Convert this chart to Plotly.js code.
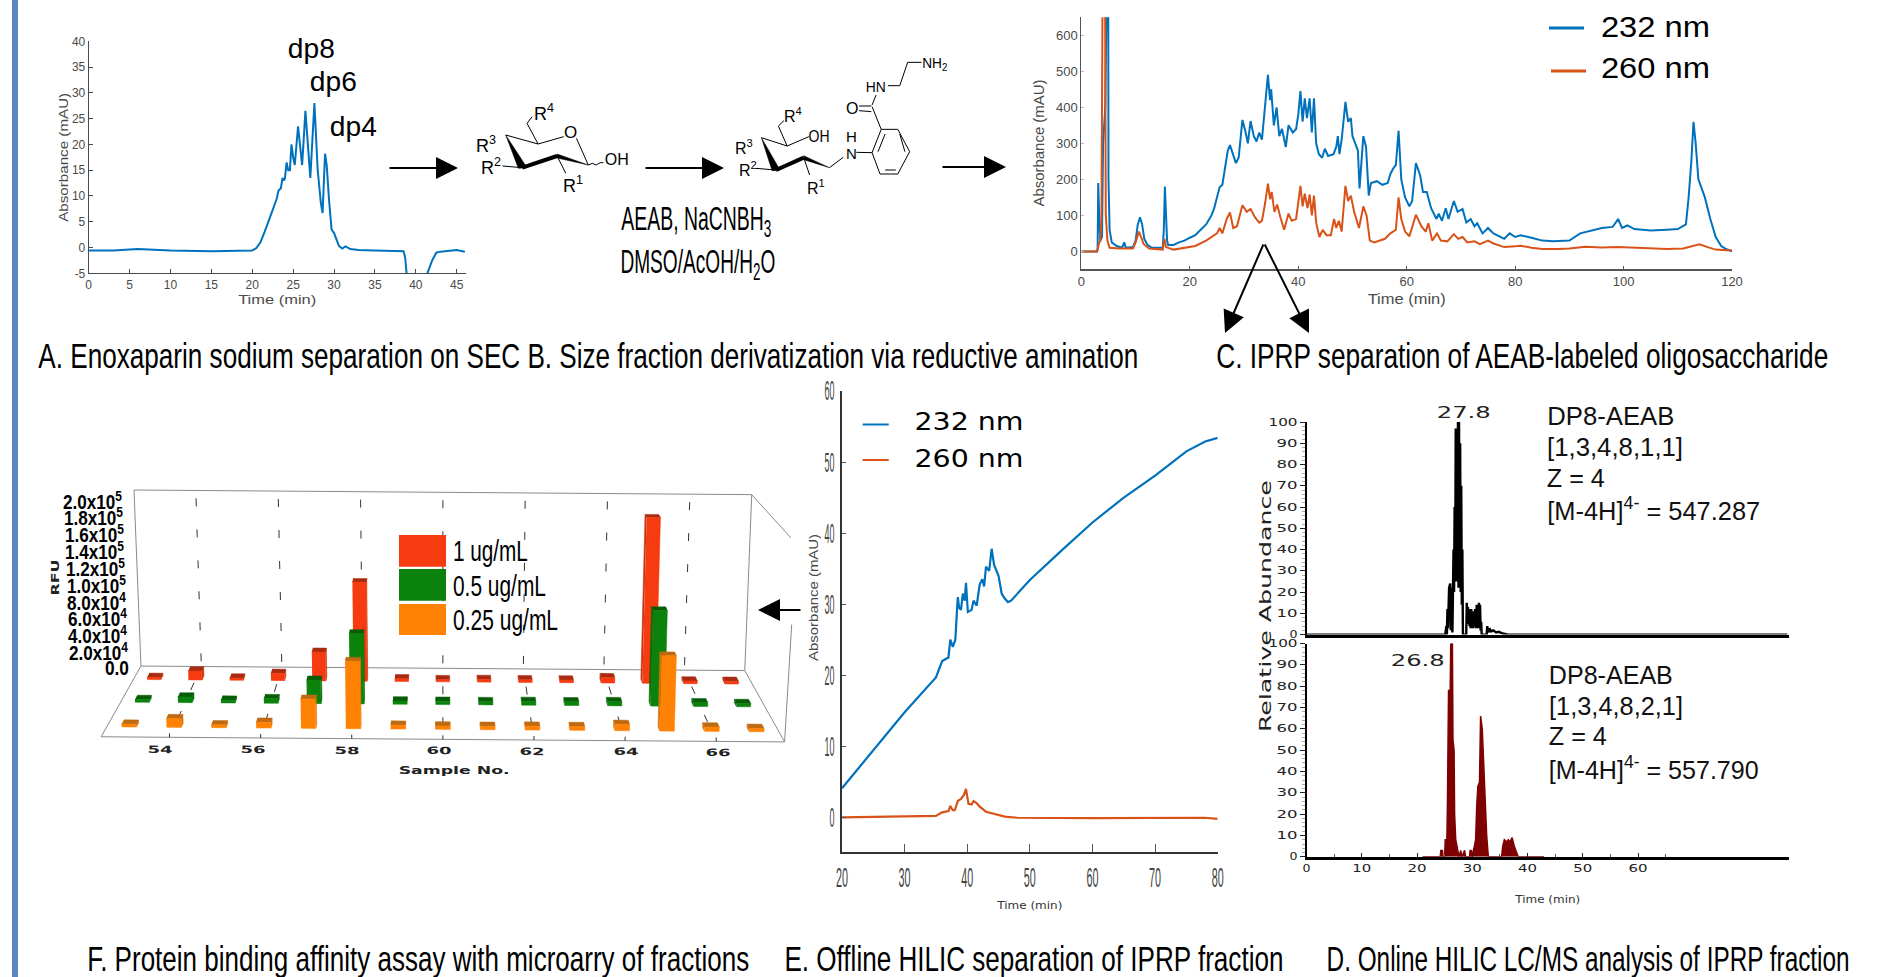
<!DOCTYPE html>
<html><head><meta charset="utf-8">
<script src="https://cdn.plot.ly/plotly-3.0.1.min.js"></script>
<style>html,body{margin:0;padding:0;background:#fff;overflow:hidden}#chart{width:1888px;height:977px}</style>
</head><body><div id="chart"></div>
<script>
// ---------- Panel A: SEC
const secTime=[0,3,6,10,15,19,20,20.5,21,21.5,22,22.5,23,23.2,23.5,23.7,23.9,24,24.2,24.4,24.6,24.8,25,25.2,25.6,26,26.1,26.5,26.9,27.1,27.6,28,28.4,28.6,28.9,29.1,29.4,29.7,30,30.3,30.6,31,31.4,32,33,35,38,38.5,38.7,38.9,40,41.3,42,42.5,43,45,46];
const secAbs=[-0.6,-0.6,-0.3,-0.6,-0.7,-0.7,-0.6,-0.1,1,3,5,7.3,9.5,11,11.5,13.5,13,13.5,16.5,15,15,20,17.5,16,23.5,17,16,26.5,17,13.5,28,15,8.5,6.7,18.2,16,9,3.5,2.8,1.5,0.3,-0.2,0.2,-0.3,-0.5,-0.6,-0.6,-0.7,-2,-5.5,-12,-5.5,-2.5,-1,-0.8,-0.5,-0.8];
const secXTicks=[0,5,10,15,20,25,30,35,40,45];
const secYTicks=[-5,0,5,10,15,20,25,30,35,40];
const secYText=['-5','0','5','10','15','20','25','30','35','40'];
// ---------- Panel C: IPRP
const iprpTime232=[0,2.9,3,3.1,3.3,3.5,3.8,4,4.4,4.7,4.9,4.95,5,5.2,5.6,6.5,7.5,7.9,8.2,9.5,10,10.4,10.8,11.2,11.6,12.2,13,15,15.2,15.4,15.6,15.8,16,17,18,19,20,21,22,23,24,24.5,25,25.5,26,26.5,27,27.4,28,28.5,29,29.7,30.3,30.7,31.2,31.8,32.3,32.8,33.3,34,34.4,34.8,35,35.5,36,36.5,37,37.7,38.2,39,39.6,40,40.4,40.8,41.2,41.6,42.1,42.5,42.9,43.3,43.8,44.4,44.9,45.5,46.5,47,47.3,47.6,48,48.7,49.2,49.7,50,50.5,51,51.3,52,52.5,53,53.4,54.5,55.5,56.5,57,57.5,58,58.5,59,59.7,60.5,61,61.7,62.5,63,63.7,64.5,65.5,65.9,66.5,67.2,67.7,68.7,69.4,70.3,71,71.8,72.5,73,74,75,76,78,79,80,81,83,85,87,89,90,92,94,96,98,99,99.7,100.7,102,105,108,110,111.5,112,112.5,112.9,113.3,113.8,115,116,117,118,119,120];
const iprpAbs232=[0,0,10,190,90,30,40,300,400,700,1000,700,200,60,25,15,10,25,10,12,30,75,95,75,35,18,10,10,60,180,100,30,18,18,25,30,38,45,60,75,100,120,150,178,185,240,280,295,265,245,260,365,330,300,362,320,305,330,310,430,490,420,450,350,400,320,340,290,350,330,340,380,445,360,425,370,425,330,425,300,270,260,285,265,270,290,320,270,310,415,360,370,320,300,280,175,320,290,155,190,195,185,190,215,230,240,335,200,150,125,140,245,210,165,165,120,90,105,85,120,90,140,110,118,80,90,70,78,50,65,50,35,50,40,45,38,30,28,28,30,50,58,65,68,90,65,72,62,58,60,62,75,150,250,360,300,200,150,90,40,15,6,0];
const iprpTime260=[0,2.9,3.2,3.5,3.7,3.9,4.3,4.5,4.8,5.2,7,9.5,10,10.6,11,11.5,12.5,15,15.3,15.6,17,19,21,23,25,25.5,26,26.8,27.4,28,28.7,29.7,30.5,31.2,32,32.8,33.3,33.9,34.4,34.8,35.1,35.6,36.1,36.7,37.4,38.2,38.8,39.6,40,40.4,40.8,41.2,41.7,42.1,42.5,42.9,43.3,43.9,44.5,45.2,46,46.6,47,47.5,48,48.7,49.2,49.7,50.3,51.2,52,52.6,53.2,54,56,57,58,58.5,59,59.7,60.5,61.7,62.7,63.5,64,64.7,65.6,66.3,67.5,68.7,69.5,70.3,71.2,72.5,73.5,75,76,78,80,81,83,85,88,90,93,96,99,103,108,111,112.5,114,115.5,117,119,120];
const iprpAbs260=[0,0,20,30,100,700,1000,100,30,10,8,8,25,55,40,20,8,5,35,12,5,10,15,30,50,65,50,90,108,65,70,128,110,118,95,80,85,135,188,145,165,110,130,95,60,105,85,90,130,182,125,160,120,158,100,155,80,40,60,45,45,90,65,85,55,182,140,155,110,65,125,100,30,25,35,50,60,150,90,55,42,102,70,55,78,30,50,30,28,48,35,40,25,28,20,30,22,12,14,16,10,7,7,8,13,11,12,9,7,8,15,20,12,5,3,3];
const iprpXTicks=[0,20,40,60,80,100,120];
const iprpYTicks=[0,100,200,300,400,500,600];
// ---------- Panel E: offline HILIC
const hilicTime232=[20,25,30,35,36,37,37.3,37.7,38.1,38.4,38.5,38.7,39,39.3,39.6,39.8,40.1,40.7,41,41.5,42,42.4,42.7,43,43.5,43.9,44.3,45,45.5,46,46.5,47,50,55,60,65,70,75,78,80];
const hilicAbs232=[4.1,9.4,14.8,19.7,22,22.5,25,24,25,29.7,31,29.5,29.2,31.5,30.5,33,28.9,29.2,30.5,29.8,32.8,33.5,32.5,35.3,34.7,37.8,35.5,34,31.5,30.8,30.3,30.5,33.4,37.5,41.5,45,48.1,51.5,52.9,53.4];
const hilicTime260=[20,30,34,35,36,37,37.3,37.7,38,38.5,39,39.5,39.8,40.2,40.7,41,41.5,42,43,44,45,46,48,60,78,80];
const hilicAbs260=[0,0.1,0.1,0.2,0.7,0.9,1.6,1,1,2.3,2.6,3.2,4,1.9,1.8,2.3,2,1.5,0.8,0.6,0.4,0.1,-0.05,-0.1,-0.05,-0.2];
const hilicXTicks=[20,30,40,50,60,70,80];
const hilicYTicks=[0,10,20,30,40,50,60];
// ---------- Panel D: LC/MS
const msTimeTop=[0,25.1,25.3,25.4,25.5,25.6,25.8,26,26.1,26.2,26.4,26.5,26.6,26.7,26.8,26.9,27,27.1,27.2,27.3,27.4,27.5,27.6,27.7,27.8,27.9,28,28.1,28.2,28.3,28.9,29,29.1,29.2,29.3,29.4,29.5,29.6,29.7,29.8,29.9,30,30.1,30.2,30.3,30.4,30.5,30.6,30.7,30.8,30.9,31,31.1,31.2,31.3,31.4,31.5,31.6,31.7,32.6,32.7,32.9,33.1,33.4,33.8,34.3,34.8,35.5,36.5,87];
const msAbundTop=[0,0,4,0,12,3,22,24,2,22,1,24,40,20,60,25,97,30,97,25,100,22,100,24,90,20,70,14,40,0,0,15,8,13,5,12,4,10,3,12,5,8,3,11,4,7,12,3,6,14,3,12,4,15,3,14,2,6,0,0,4,1,3,1.5,2,1,1.3,0.5,0,0];
const msTimeBottom=[21,24.2,24.3,24.6,24.7,25,25.1,25.4,25.5,25.7,26,26.1,26.4,26.5,26.7,26.8,27,27.3,27.6,27.9,28.1,28.6,28.8,29.5,29.6,29.8,29.9,30.3,30.6,30.8,31,31.3,31.5,31.8,32,32.3,32.6,32.9,35.3,35.5,35.8,36.2,36.5,36.8,37.2,37.6,38,38.3,43];
const msAbundBottom=[0,0,3,3,0,0,8,8,25,78,78,100,100,55,50,20,8,3,0,3,0,3,0,0,3,3,0,4,8,24,33,35,66,60,48,25,10,0,0,5,8,7,8,7,9,5,2,0,0];
const msXTicks=[0,10,20,30,40,50,60];
const msXMinor=[5,15,25,35,45,55,65];
const msYTicks=[0,10,20,30,40,50,60,70,80,90,100];
// ---------- Panel F: microarray 3D bars
const sampleNo=[53,54,55,56,57,58,59,60,61,62,63,64,65,66,67];
const rfu1=[2500,10000,2500,8000,32000,110000,3000,2500,3000,3000,3000,6000,184000,3000,3000];
const rfu05=[3000,6000,3000,5000,25000,75000,3500,3500,3500,4000,4000,4500,102000,4000,3500];
const rfu025=[3000,9000,3000,6000,30000,69000,4000,3500,3500,4000,4000,6500,77000,4500,3500];
const sampleTicks=[54,56,58,60,62,64,66];
const rfuTicks=[0,20000,40000,60000,80000,100000,120000,140000,160000,180000,200000];
const rfuText=['0.0','2.0x10<sup>4</sup>','4.0x10<sup>4</sup>','6.0x10<sup>4</sup>','8.0x10<sup>4</sup>','1.0x10<sup>5</sup>','1.2x10<sup>5</sup>','1.4x10<sup>5</sup>','1.6x10<sup>5</sup>','1.8x10<sup>5</sup>','2.0x10<sup>5</sup>'];
const concLabels=['1 ug/mL','0.5 ug/mL','0.25 ug/mL'];

const BLUE='#0072bd',ORANGE='#d95319',SANS='Liberation Sans',NARROW=SANS,WIDE='DejaVu Sans';
const W=1888,H=977;
const dx=(a,b)=>[a/W,b/W], dy=(top,bot)=>[1-bot/H,1-top/H];

// Perspective of panel F (works in the zoomed image units of that panel)
const kd=d=>78.9+10.4*d;
function proj(s,d,v){
  const t=v/200000;
  const zx=868+(s-60)*kd(d)*(1+0.023*t);
  const zy=625+(zx-868)*0.0115+213*d-t*528*kd(d)/78.9;
  return [zx/1.96,460+zy/3];
}
const rows=[
 {vals:rfu1,  d:0.16,front:'#f53b0f',top:'#a82a10',side:'#c9320f',name:concLabels[0]},
 {vals:rfu05, d:0.48,front:'#0b820b',top:'#075c07',side:'#086a08',name:concLabels[1]},
 {vals:rfu025,d:0.83,front:'#ff8205',top:'#bd6a12',side:'#d9720a',name:concLabels[2]}
];
const traces=[];
const base={mode:'lines',showlegend:false,hoverinfo:'skip'};
// Panels A, C, E, D
traces.push({...base,x:secTime,y:secAbs,xaxis:'x',yaxis:'y',line:{color:BLUE,width:2},name:'SEC'});
traces.push({...base,x:iprpTime232,y:iprpAbs232,xaxis:'x2',yaxis:'y2',line:{color:BLUE,width:2},name:'232 nm'});
traces.push({...base,x:iprpTime260,y:iprpAbs260,xaxis:'x2',yaxis:'y2',line:{color:ORANGE,width:2},name:'260 nm'});
traces.push({...base,x:hilicTime232,y:hilicAbs232,xaxis:'x3',yaxis:'y3',line:{color:BLUE,width:2.2},name:'232 nm'});
traces.push({...base,x:hilicTime260,y:hilicAbs260,xaxis:'x3',yaxis:'y3',line:{color:ORANGE,width:2.2},name:'260 nm'});
traces.push({...base,x:msTimeTop,y:msAbundTop,xaxis:'x4',yaxis:'y4',line:{color:'#000',width:2.4},name:'[1,3,4,8,1,1]'});
traces.push({...base,x:msTimeBottom,y:msAbundBottom,xaxis:'x5',yaxis:'y5',fill:'tozeroy',fillcolor:'#7f0000',line:{color:'#7f0000',width:1.5},name:'[1,3,4,8,2,1]'});

// Panel F frame: walls and dashed guides
const S0=52.5,S1=67.5,VT=200000;
const poly=(pts)=>({x:pts.map(p=>p[0]),y:pts.map(p=>p[1])});
const frame=poly([proj(S0,0,VT),proj(S1,0,VT),proj(S1,0,0),proj(S0,0,0),proj(S0,0,VT)]);
traces.push({...base,x:frame.x,y:frame.y,xaxis:'x6',yaxis:'y6',line:{color:'#8a8a8a',width:1}});
const floor=poly([proj(S0,0,0),proj(S0,1,0),proj(S1,1,0),proj(S1,0,0)]);
traces.push({...base,x:floor.x,y:floor.y,xaxis:'x6',yaxis:'y6',line:{color:'#8a8a8a',width:1}});
const gx=[],gy=[];
sampleTicks.forEach(s=>{const a=proj(s,0,VT*0.955),b=proj(s,0,0),c=proj(s,1,0);gx.push(a[0],b[0],c[0],null);gy.push(a[1],b[1],c[1],null);});
traces.push({...base,x:gx,y:gy,xaxis:'x6',yaxis:'y6',line:{color:'#333',width:1,dash:'8px,23px'}});
const fx=[],fy=[];
sampleTicks.forEach(s=>{const a=proj(s,1,0),b=[a[0],a[1]-4];fx.push(a[0],b[0],null);fy.push(a[1],b[1],null);});
traces.push({...base,x:fx,y:fy,xaxis:'x6',yaxis:'y6',line:{color:'#333',width:1}});

// Panel F bars, back row first
const hw=0.165,dd=0.06;
rows.forEach(r=>{
  const side={x:[],y:[]},top={x:[],y:[]},front={x:[],y:[]};
  const add=(o,pts)=>{pts.forEach(p=>{o.x.push(p[0]);o.y.push(p[1]);});o.x.push(null);o.y.push(null);};
  sampleNo.forEach((s,i)=>{
    const v=r.vals[i],df=r.d+dd/2,db=r.d-dd/2,sl=s-hw,sr=s+hw;
    const sx=s<60?sr:sl;
    add(side,[proj(sx,df,0),proj(sx,db,0),proj(sx,db,v),proj(sx,df,v)]);
    add(top,[proj(sl,df,v),proj(sr,df,v),proj(sr,db,v),proj(sl,db,v)]);
    add(front,[proj(sl,df,0),proj(sr,df,0),proj(sr,df,v),proj(sl,df,v)]);
  });
  const mk=(o,c)=>({...base,x:o.x,y:o.y,xaxis:'x6',yaxis:'y6',fill:'toself',fillcolor:c,line:{color:c,width:0.5},name:r.name});
  traces.push(mk(side,r.side),mk(top,r.top),mk(front,r.front));
});

// Axis helper
const axBase={showgrid:false,zeroline:false,showline:true,ticks:'inside',automargin:false};
const font=(f,s,c)=>({family:f,size:s,color:c});
const GREY='#4a4a4a';
const layout={
 width:W,height:H,margin:{l:0,r:0,t:0,b:0},paper_bgcolor:'#fff',plot_bgcolor:'rgba(0,0,0,0)',showlegend:false,
 xaxis:{...axBase,domain:dx(88.7,465.7),range:[0,46.1],anchor:'y',tickmode:'array',tickvals:secXTicks,ticklen:4,linecolor:GREY,tickcolor:GREY,linewidth:1,tickfont:font(SANS,12,GREY),title:{text:'Time (min)',font:font(SANS,13,GREY),standoff:0}},
 yaxis:{...axBase,domain:dy(41.3,273.3),range:[-5,40],anchor:'x',tickmode:'array',tickvals:secYTicks,ticktext:secYText,ticklen:4,linecolor:GREY,tickcolor:GREY,linewidth:1,tickfont:font(SANS,12,GREY),title:{text:'Absorbance (mAU)',font:font(SANS,13,GREY),standoff:0}},
 xaxis2:{...axBase,domain:dx(1081.4,1732),range:[0,120],anchor:'y2',tickmode:'array',tickvals:iprpXTicks,ticklen:3,linecolor:'#555',tickcolor:'#555',linewidth:1.5,tickfont:font(SANS,13,GREY),title:{text:'Time (min)',font:font(SANS,14,GREY),standoff:6}},
 yaxis2:{...axBase,domain:dy(17.3,268.7),range:[-48,650],anchor:'x2',tickmode:'array',tickvals:iprpYTicks,ticklen:3,linecolor:'#555',tickcolor:'#bbb',linewidth:1,tickfont:font(SANS,13,GREY),title:{text:'Absorbance (mAU)',font:font(SANS,14,GREY),standoff:8}},
 xaxis3:{...axBase,domain:dx(842,1217.7),range:[20,80],anchor:'y3',tickmode:'array',tickvals:hilicXTicks,ticklen:8,linecolor:'#333',tickcolor:'#555',linewidth:2,tickfont:font(NARROW,27,'#444'),title:{text:'Time (min)',font:font(WIDE,10,'#333'),standoff:10}},
 yaxis3:{...axBase,domain:dy(391,852.2),range:[-4.9,60],anchor:'x3',tickmode:'array',tickvals:hilicYTicks,ticklen:4,linecolor:'#333',tickcolor:'#555',linewidth:2,tickfont:font(NARROW,27,'#444')},
 xaxis4:{...axBase,domain:dx(1306.5,1789),range:[0,87.3],anchor:'y4',showticklabels:false,ticks:'',linecolor:'#000',linewidth:2.5},
 yaxis4:{...axBase,domain:dy(422,634.6),range:[0,100],anchor:'x4',tickmode:'array',tickvals:msYTicks,ticks:'outside',ticklen:5,linecolor:'#000',tickcolor:'#222',linewidth:2,tickfont:font(WIDE,10,'#222'),minor:{dtick:2,ticklen:3,ticks:'outside',tickcolor:'#aaa'}},
 xaxis5:{...axBase,domain:dx(1306.5,1789),range:[0,87.3],anchor:'y5',tickmode:'array',tickvals:msXTicks,ticks:'inside',ticklen:4,linecolor:'#000',tickcolor:'#222',linewidth:2.5,tickfont:font(WIDE,10,'#222'),minor:{tickmode:'array',tickvals:msXMinor,ticks:'inside',ticklen:3,tickcolor:'#555'},title:{text:'Time (min)',font:font(WIDE,10,'#333'),standoff:24}},
 yaxis5:{...axBase,domain:dy(643.6,856.8),range:[0,100],anchor:'x5',tickmode:'array',tickvals:msYTicks,ticks:'outside',ticklen:5,linecolor:'#000',tickcolor:'#222',linewidth:2,tickfont:font(WIDE,10,'#222'),minor:{dtick:2,ticklen:3,ticks:'outside',tickcolor:'#aaa'}},
 xaxis6:{domain:[0,1],range:[0,W],visible:false,anchor:'y6',fixedrange:true},
 yaxis6:{domain:[0,1],range:[H,0],visible:false,anchor:'x6',fixedrange:true},
 shapes:[],annotations:[]
};

// Shapes and texts in page pixels
const line=(x0,y0,x1,y1,w,c)=>layout.shapes.push({type:'line',xref:'x6',yref:'y6',x0,y0,x1,y1,line:{color:c||'#000',width:w||1}});
const path=(d,c)=>layout.shapes.push({type:'path',xref:'x6',yref:'y6',path:d,fillcolor:c||'#000',line:{color:c||'#000',width:0.5}});
const rect=(x0,y0,x1,y1,c)=>layout.shapes.push({type:'rect',xref:'x6',yref:'y6',x0,y0,x1,y1,fillcolor:c,line:{width:0}});
const fits=[];
function text(t,x,y,size,fam,opt){
  opt=opt||{};
  layout.annotations.push({text:opt.bold?'<b>'+t+'</b>':t,x,y,xref:'x6',yref:'y6',xanchor:'center',yanchor:'middle',showarrow:false,textangle:opt.angle||0,font:font(fam,size,opt.color||'#000')});
  fits.push(opt.w||0);
}
function arrow(x0,y0,x1,y1,w,sz){
  layout.annotations.push({text:'',x:x1,y:y1,ax:x0,ay:y0,xref:'x6',yref:'y6',axref:'x6',ayref:'y6',showarrow:true,arrowhead:2,arrowwidth:w,arrowsize:sz,arrowcolor:'#000'});
  fits.push(0);
}
rect(12,0,18,H,'#5b86c4');
// arrows
arrow(388,168,458,168,2,2.2);
arrow(644,168,724,168,2,2.2);
arrow(941,167,1006,167,2,2.2);
arrow(1264,243,1225,333,2,2.2);
arrow(1264,243,1309,333,2,2.2);
arrow(802,610,758,610,2,2.2);
// Panel A peak names
text('dp8',311.5,48,28,SANS,{w:47});
text('dp6',333.5,81,28,SANS,{w:47});
text('dp4',353,126,28,SANS,{w:47});
// Structures (coordinates from the 2.53x / 3x crop)
const Z=(x,y)=>[380+x/2.53,y/3];
const bond=(a,b,c,d,w)=>{const p=Z(a,b),q=Z(c,d);line(p[0],p[1],q[0],q[1],w||1);};
const wedge=(a,b,c,d,e,f)=>{const p=Z(a,b),q=Z(c,d),r=Z(e,f);path(`M${p[0]},${p[1]} L${q[0]},${q[1]} L${r[0]},${r[1]} Z`);};
const chem=(t,a,b,s,w)=>{const p=Z(a,b);text(t,p[0],p[1],s,SANS,{w:w});};
// left sugar
bond(385,350,372,370);bond(372,370,400,432);bond(318,405,400,432);bond(400,432,465,410);bond(497,415,527,495);
wedge(318,405,350,505,372,503);bond(360,503,448,468,4);wedge(448,462,448,474,527,495);bond(310,498,360,503);bond(448,468,470,520);
bond(527,495,537,490);bond(537,490,547,495);bond(547,495,557,488);bond(557,488,565,488);
chem('R<sup>4</sup>',415,338,18);chem('O',483,398,17);chem('R<sup>3</sup>',268,432,18);chem('R<sup>2</sup>',280,500,18);chem('R<sup>1</sup>',488,552,18);chem('OH',600,478,17,24);
// right sugar with AEAB
bond(1022,362,1008,378);bond(1008,378,1030,438);bond(965,413,1030,438);bond(1030,438,1085,410);
wedge(965,413,992,512,1012,510);bond(1002,510,1072,473,4);wedge(1072,467,1072,479,1137,503);bond(1137,503,1172,472);
bond(950,505,1002,510);bond(1072,473,1087,525);bond(1205,457,1245,458);
bond(1245,458,1268,388);bond(1268,388,1310,388);bond(1310,388,1340,455);bond(1340,455,1310,522);bond(1310,522,1265,522);bond(1265,522,1245,458);
bond(1260,455,1278,402);bond(1315,402,1328,455);bond(1278,510,1305,510);
bond(1268,388,1245,320);bond(1212,332,1243,335);bond(1212,318,1243,318);bond(1245,315,1255,285);
bond(1285,257,1315,257);bond(1315,257,1335,187);bond(1335,187,1370,187);
chem('R<sup>4</sup>',1045,345,16);chem('OH',1110,408,16,21);chem('R<sup>3</sup>',920,440,16);chem('R<sup>2</sup>',932,507,16);chem('R<sup>1</sup>',1103,560,16);
chem('H',1192,408,15);chem('N',1192,460,15);chem('O',1195,325,16);chem('HN',1255,258,15,20);chem('NH<sub>2</sub>',1405,190,15,25);
// Reagents
text('AEAB, NaCNBH<sub>3</sub>',696,220,34,NARROW,{w:150});
text('DMSO/AcOH/H<sub>2</sub>O',698,263,34,NARROW,{w:155});
// Panel C legend
line(1549,28,1584,28,3,BLUE);line(1551,71,1586,71,3,ORANGE);
text('232 nm',1655.5,27,29,SANS,{w:109});
text('260 nm',1655.5,68,29,SANS,{w:109});
// Panel E legend
line(862.7,424.5,888.7,424.5,2,BLUE);line(862.7,460,888.7,460,2,ORANGE);
text('232 nm',968.8,422,24,WIDE,{w:109});
text('260 nm',968.8,459,24,WIDE,{w:109});
// Panel E y title
text('Absorbance (mAU)',812.7,597,13,SANS,{w:127,angle:-90,color:GREY});
// Panel D notes
text('Relative Abundance',1265,606,16,WIDE,{w:252,angle:-90,color:'#222'});
text('27.8',1463,413,15,WIDE,{w:54,color:'#222'});
text('26.8',1417.5,661,15,WIDE,{w:54,color:'#222'});
const noteL=[['DP8-AEAB',1610.5,416,127],['[1,3,4,8,1,1]',1615,447,136],['Z = 4',1576,478,58],['[M-4H]<sup>4-</sup> = 547.287',1653.5,508.6,213],
             ['DP8-AEAB',1611,674.6,124],['[1,3,4,8,2,1]',1616,706,134],['Z = 4',1578,736.4,58],['[M-4H]<sup>4-</sup> = 557.790',1653,768,210]];
noteL.forEach(n=>text(n[0],n[1],n[2],25,SANS,{w:n[3],color:'#111'}));
// Panel F labels
rfuTicks.forEach((v,i)=>{
  const t=v/VT, right=(252-12*t)/1.96, yy=460+(625-505*t)/3, w=i===0?24:59;
  text(rfuText[i],right-w/2,yy,20,NARROW,{w:w,bold:true});
});
const labelZ=[[313,867],[495,869],[680,870],[861,872],[1043,873],[1226,875],[1408,877]];
sampleTicks.forEach((s,i)=>text(String(s),labelZ[i][0]/1.96,460+labelZ[i][1]/3,10,WIDE,{w:25,bold:true,angle:1,color:'#222'}));
text('Sample No.',453.5,770.7,10,WIDE,{w:111,bold:true,color:'#222'});
text('RFU',55,578,11,WIDE,{w:36,bold:true,angle:-90,color:'#222'});
// Panel F legend
const legendC=['#f53b0f','#0b820b','#ff8205'];
const legendY=[[535,566.7],[569,600.7],[604,635]];
legendC.forEach((c,i)=>rect(399,legendY[i][0],446,legendY[i][1],c));
text(concLabels[0],490.5,551,29,NARROW,{w:75});
text(concLabels[1],499.5,586,29,NARROW,{w:93});
text(concLabels[2],505.5,620,29,NARROW,{w:105});
// Right wall of panel F
const tr=proj(S1,0,VT);
line(tr[0],tr[1],791,538,1,'#8a8a8a');
const fr=proj(S1,1,0);
line(791.7,624.5,fr[0],fr[1],1,'#8a8a8a');
// Captions
text('A. Enoxaparin sodium separation on SEC B. Size fraction derivatization via reductive amination',588.7,355,35,NARROW,{w:1100});
text('C. IPRP separation of AEAB-labeled oligosaccharide',1522,355,35,NARROW,{w:612});
text('F. Protein binding affinity assay with microarry of fractions',418,958,35,NARROW,{w:662});
text('E. Offline HILIC separation of IPRP fraction',1033.5,958,35,NARROW,{w:499});
text('D. Online HILIC LC/MS analysis of IPRP fraction',1587.5,958,35,NARROW,{w:523});

function stretch(el,w){el.setAttribute('textLength',w);el.setAttribute('lengthAdjust','spacingAndGlyphs');}
Plotly.newPlot('chart',traces,layout,{displayModeBar:false,responsive:false}).then(gd=>{
  gd.querySelectorAll('.annotation').forEach((g,i)=>{
    if(fits[i]){const t=g.querySelector('text');if(t)stretch(t,fits[i]);}
  });
  const tickFit=(cls,f)=>gd.querySelectorAll('g.'+cls+' text').forEach(t=>stretch(t,f(t.textContent.length)));
  tickFit('x3tick',n=>12);tickFit('y3tick',n=>n>1?10:5);
  tickFit('y4tick',n=>n>2?29:n>1?21:8);tickFit('y5tick',n=>n>2?29:n>1?21:8);
  tickFit('x5tick',n=>n>1?19:8);
  const titleFit={xtitle:78,ytitle:129,x2title:78,y2title:127,x3title:65,x5title:65};
  Object.keys(titleFit).forEach(c=>{const t=gd.querySelector('text.'+c);if(t)stretch(t,titleFit[c]);});
});
</script></body></html>
